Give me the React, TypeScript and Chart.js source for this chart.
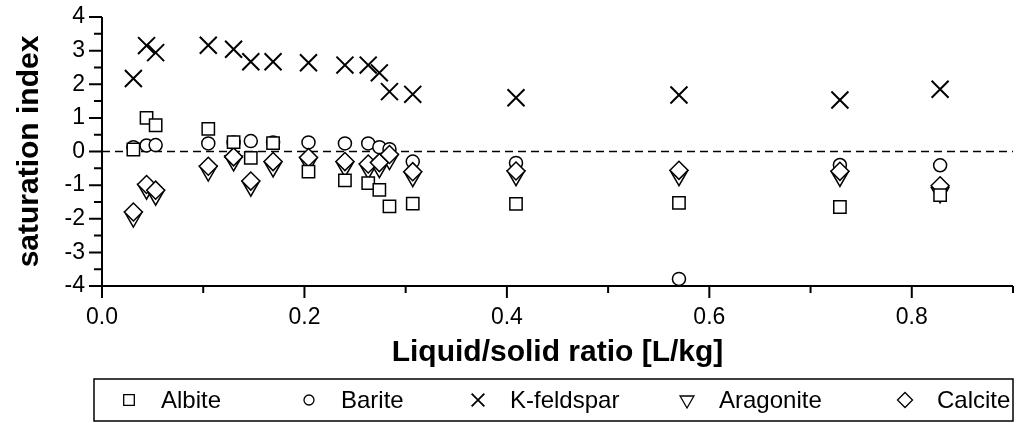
import React, { useEffect, useRef } from 'react';
import { Chart, registerables } from 'chart.js';
import { drawPoint } from 'chart.js/helpers';

Chart.register(...registerables);

// Liquid/solid ratio of each leaching step [L/kg]
const ratio = [0.031, 0.044, 0.053, 0.105, 0.130, 0.147, 0.169, 0.204, 0.240, 0.263, 0.274, 0.284, 0.307, 0.409, 0.570, 0.729, 0.828];

// Saturation indices per mineral
const albite = [0.06, 1.00, 0.78, 0.67, 0.28, -0.19, 0.25, -0.60, -0.86, -0.94, -1.14, -1.63, -1.55, -1.56, -1.53, -1.65, -1.30];
const barite = [0.13, 0.18, 0.19, 0.24, 0.27, 0.31, 0.27, 0.27, 0.24, 0.24, 0.13, 0.07, -0.30, -0.34, -3.79, -0.40, -0.41];
const kFeldspar = [2.17, 3.15, 2.94, 3.16, 3.04, 2.67, 2.67, 2.64, 2.57, 2.57, 2.34, 1.78, 1.70, 1.60, 1.68, 1.53, 1.85];
const aragonite = [-1.95, -1.12, -1.30, -0.58, -0.28, -1.03, -0.46, -0.33, -0.46, -0.52, -0.48, -0.24, -0.75, -0.72, -0.72, -0.74, -1.23];
const calcite = [-1.80, -0.98, -1.15, -0.44, -0.16, -0.88, -0.30, -0.18, -0.30, -0.37, -0.33, -0.09, -0.60, -0.58, -0.56, -0.59, -1.02];

const seriesNames = ['Albite', 'Barite', 'K-feldspar', 'Aragonite', 'Calcite'];

// Axis ranges and tick steps
const xRange = [0, 0.9];
const xStep = 0.1;
const yRange = [-4, 4];
const yStep = 0.5;

const FONT = "'Liberation Sans', Arial, Helvetica, sans-serif";

type Marker = { pointStyle: string; radius: number; rotation: number; borderWidth: number; order: number };
const markers: Marker[] = [
  { pointStyle: 'rect', radius: 8.7, rotation: 0, borderWidth: 1.5, order: 0 },
  { pointStyle: 'circle', radius: 6.5, rotation: 0, borderWidth: 1.5, order: 3 },
  { pointStyle: 'crossRot', radius: 12, rotation: 0, borderWidth: 2, order: 4 },
  { pointStyle: 'triangle', radius: 10, rotation: 180, borderWidth: 1.5, order: 2 },
  { pointStyle: 'rectRot', radius: 9, rotation: 0, borderWidth: 1.5, order: 1 },
];
const legendMarkers = [
  { radius: 7.5 },
  { radius: 5 },
  { radius: 9 },
  { radius: 8 },
  { radius: 7.5 },
];
// Marker centres of the legend entries, in canvas pixels
const legendSlots = [129, 309, 478, 687, 905];

const isMajorX = (v: number) => Math.abs(v * 5 - Math.round(v * 5)) < 1e-6;
const isMajorY = (v: number) => Math.abs(v - Math.round(v)) < 1e-6;

const frame = {
  id: 'frame',
  beforeDatasetsDraw(chart: any) {
    const { ctx, chartArea, scales } = chart;
    const y0 = scales.y.getPixelForValue(0);
    ctx.save();
    ctx.strokeStyle = '#000';
    ctx.lineWidth = 1.5;
    ctx.setLineDash([8, 5]);
    ctx.beginPath();
    ctx.moveTo(chartArea.left, y0);
    ctx.lineTo(chartArea.right, y0);
    ctx.stroke();
    ctx.restore();
  },
  afterDatasetsDraw(chart: any) {
    const { ctx, chartArea, scales } = chart;
    const { left, right, top, bottom } = chartArea;
    ctx.save();
    ctx.strokeStyle = '#000';
    ctx.lineWidth = 2;
    ctx.lineCap = 'butt';
    ctx.beginPath();
    ctx.moveTo(left, top);
    ctx.lineTo(left, bottom);
    ctx.moveTo(left - 1, bottom);
    ctx.lineTo(right, bottom);
    for (const t of scales.x.ticks) {
      const px = scales.x.getPixelForValue(t.value);
      const len = isMajorX(t.value) ? 12 : 7;
      ctx.moveTo(px, bottom);
      ctx.lineTo(px, bottom + len);
    }
    for (const t of scales.y.ticks) {
      const py = scales.y.getPixelForValue(t.value);
      const len = isMajorY(t.value) ? 13 : 8;
      ctx.moveTo(left - len, py);
      ctx.lineTo(left, py);
    }
    ctx.stroke();
    ctx.restore();
  },
  afterDraw(chart: any) {
    const { ctx, chartArea } = chart;
    const boxLeft = 94;
    const boxRight = chartArea.right;
    const boxTop = 379;
    const boxBottom = 421;
    const cy = (boxTop + boxBottom) / 2;
    ctx.save();
    ctx.strokeStyle = '#000';
    ctx.lineWidth = 1.5;
    ctx.strokeRect(boxLeft, boxTop, boxRight - boxLeft, boxBottom - boxTop);
    ctx.font = `24px ${FONT}`;
    ctx.textBaseline = 'middle';
    ctx.textAlign = 'left';
    seriesNames.forEach((name, i) => {
      const m = markers[i];
      const x = legendSlots[i];
      ctx.fillStyle = '#fff';
      ctx.strokeStyle = '#000';
      ctx.lineWidth = m.borderWidth === 2 ? 1.8 : 1.3;
      drawPoint(ctx, { pointStyle: m.pointStyle, radius: legendMarkers[i].radius, rotation: m.rotation, borderWidth: 1 } as any, x, cy);
      ctx.fillStyle = '#000';
      ctx.fillText(name, x + 32, cy + 1);
    });
    ctx.restore();
  },
};

export default function App() {
  const canvasRef = useRef<HTMLCanvasElement | null>(null);

  useEffect(() => {
    const canvas = canvasRef.current;
    if (!canvas) return;
    const series = [albite, barite, kFeldspar, aragonite, calcite];
    const chart = new Chart(canvas, {
      type: 'scatter',
      data: {
        datasets: series.map((values, i) => ({
          label: seriesNames[i],
          data: ratio.map((x, j) => ({ x, y: values[j] })),
          pointStyle: markers[i].pointStyle as any,
          pointRadius: markers[i].radius,
          pointRotation: markers[i].rotation,
          pointBorderWidth: markers[i].borderWidth,
          pointBorderColor: '#000',
          pointBackgroundColor: '#fff',
          borderColor: '#000',
          backgroundColor: '#fff',
          order: markers[i].order,
          showLine: false,
          clip: false as any,
        })),
      },
      options: {
        animation: false,
        responsive: false,
        devicePixelRatio: 1,
        events: [],
        layout: { padding: { left: 0, right: 1, top: 17, bottom: 0 } },
        plugins: {
          legend: { display: false },
          tooltip: { enabled: false },
        },
        scales: {
          x: {
            type: 'linear',
            min: xRange[0],
            max: xRange[1],
            grid: { display: false, drawTicks: false },
            border: { display: false },
            ticks: {
              stepSize: xStep,
              autoSkip: false,
              maxRotation: 0,
              padding: 18,
              color: '#000',
              font: { family: FONT, size: 23 },
              callback: (v: any) => (isMajorX(Number(v)) && Number(v) < 0.85 ? Number(v).toFixed(1) : ''),
            },
            title: {
              display: true,
              text: 'Liquid/solid ratio [L/kg]',
              color: '#000',
              font: { family: FONT, size: 30, weight: 'bold' },
              padding: { top: 0, bottom: 52 },
            },
            afterFit: (s: any) => {
              s.height = 137;
              s.paddingLeft = 0;
              s.paddingRight = 0;
            },
          },
          y: {
            type: 'linear',
            min: yRange[0],
            max: yRange[1],
            grid: { display: false, drawTicks: false },
            border: { display: false },
            ticks: {
              stepSize: yStep,
              autoSkip: false,
              padding: 17,
              color: '#000',
              font: { family: FONT, size: 23 },
              callback: (v: any) => (isMajorY(Number(v)) ? String(Math.round(Number(v))) : ''),
            },
            title: {
              display: true,
              text: 'saturation index',
              color: '#000',
              font: { family: FONT, size: 30, weight: 'bold' },
              padding: { top: 12, bottom: 0 },
            },
            afterFit: (s: any) => {
              s.width = 102;
              s.paddingTop = 0;
              s.paddingBottom = 0;
            },
          },
        },
      },
      plugins: [frame],
    });
    return () => chart.destroy();
  }, []);

  return (
    <div style={{ position: 'absolute', left: 0, top: 0, width: 1027, height: 423, background: '#fff' }}>
      <canvas ref={canvasRef} width={1027} height={423} />
    </div>
  );
}
